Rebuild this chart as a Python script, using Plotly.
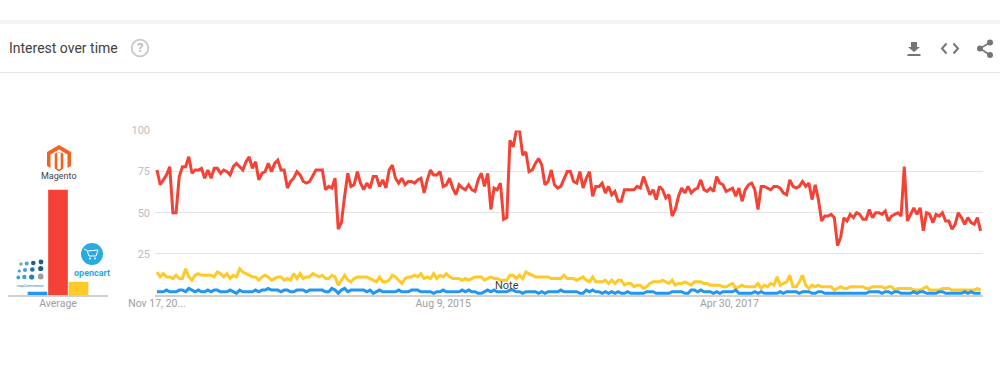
import pandas as pd
import plotly.graph_objects as go

START_DATE = "2013-11-17"
tick_dates = ["2013-11-17", "2015-08-09", "2017-04-30"]
tick_labels = ["Nov 17, 20...", "Aug 9, 2015", "Apr 30, 2017"]
y_ticks = [25, 50, 75, 100]

magento = [
    76,67,70,73,78,50,50,72,78,78, 84,74,76,76,77,71,76,71,77,77,
    74,76,75,73,78,80,78,76,81,84, 77,81,70,74,75,80,75,80,82,76,
    76,65,69,71,75,73,69,68,69,73, 76,76,76,64,66,65,71,40,44,60,
    74,66,67,75,68,64,68,65,72,72, 66,70,65,76,79,71,68,71,67,69,
    69,68,70,71,62,70,76,73,73,75, 66,67,71,65,61,67,65,64,67,64,
    63,70,74,66,74,52,65,64,68,46, 47,94,90,100,100,85,87,75,76,80,
    83,79,67,69,76,67,65,66,70,75, 75,69,68,75,65,71,75,60,66,66,
    68,62,66,61,63,57,57,64,64,64, 64,66,65,72,66,61,64,58,66,64,
    59,61,48,52,60,65,62,66,62,64, 65,70,64,63,65,63,72,68,67,63,
    64,65,60,65,57,64,67,68,64,52, 66,66,65,64,66,66,65,62,61,70,
    66,65,66,69,66,68,58,67,58,45, 48,48,49,47,30,35,47,45,49,47,
    50,49,46,46,52,47,50,50,49,51, 45,48,49,50,48,78,45,49,53,49,
    53,39,50,49,44,49,48,50,45,45, 40,43,50,47,43,47,44,43,47,39,
]
opencart = [
    14,11,13,11,11,10,12,10,10,16, 11,9,12,13,12,12,12,12,11,14,
    13,11,13,10,12,11,16,14,13,12, 11,11,9,11,12,11,9,10,11,11,
    9,10,9,13,10,13,10,11,11,13, 12,11,12,10,10,12,11,6,9,12,
    9,8,10,11,11,11,11,10,9,8, 11,8,8,9,12,11,9,7,10,11,
    11,12,11,13,10,11,10,13,10,12, 11,13,11,10,10,10,9,10,9,10,
    11,11,11,9,10,11,10,10,9,9, 9,12,12,10,12,10,14,13,12,11,
    11,11,11,11,10,10,10,10,12,10, 10,10,9,10,11,9,8,11,8,8,
    8,9,7,9,7,9,9,6,7,7, 5,6,6,4,5,7,8,8,8,9,
    8,7,9,6,7,7,8,7,6,8, 8,8,7,7,6,6,6,6,5,5,
    6,7,4,5,6,5,5,5,5,7, 4,6,5,7,6,11,6,7,8,12,
    5,5,8,12,6,4,6,5,6,5, 5,5,5,3,4,5,4,4,5,5,
    5,5,5,4,4,5,5,5,5,4, 5,5,3,4,4,4,4,4,3,3,
    3,4,5,3,3,3,3,4,4,4, 3,3,3,3,3,3,3,3,4,3,
]
nopcommerce = [
    2,2,2,3,2,2,2,3,3,2, 4,3,2,3,2,2,3,2,3,3,
    2,2,2,3,2,1,3,2,2,2, 2,3,2,3,3,4,3,3,3,2,
    3,3,2,2,3,3,3,2,3,3, 3,3,3,2,2,4,3,1,3,4,
    2,3,3,3,3,3,2,3,1,2, 3,2,2,2,2,2,3,2,2,2,
    3,3,3,2,2,2,2,1,2,2, 3,2,2,2,2,2,3,2,3,2,
    2,1,1,2,3,2,3,2,2,2, 2,3,3,2,2,1,2,2,2,2,
    1,2,1,2,2,2,2,3,2,2, 2,2,2,1,1,3,2,3,2,2,
    1,2,1,2,1,2,1,1,2,1, 1,1,1,1,2,2,2,1,1,1,
    1,1,2,2,2,2,1,1,3,3, 2,3,2,2,2,1,2,1,2,2,
    2,2,3,1,1,1,1,1,2,1, 2,1,1,1,1,1,2,1,2,2,
    2,2,1,2,2,2,1,1,2,2, 1,1,1,1,1,1,1,1,1,1,
    1,1,1,1,2,2,2,2,1,2, 2,1,2,2,1,1,1,1,2,1,
    2,2,1,1,1,1,2,2,1,1, 1,1,1,1,2,1,2,1,1,1,
]
avg_names = ["nopCommerce", "Magento", "OpenCart"]
avg_values = [2, 64, 8]

BLUE, RED, YELLOW = "#2196f3", "#f44336", "#ffca28"
W, H = 1000, 380
FONT = "Roboto"
GREY = "#757575"


def fx(x):
    return x / W


def fy(y):
    return 1 - y / H


def poly(pts, fill):
    d = "M" + " L".join(f"{fx(x):.5f},{fy(y):.5f}" for x, y in pts) + " Z"
    return dict(type="path", xref="paper", yref="paper", path=d,
                fillcolor=fill, line=dict(width=0), layer="above")


def rect(x0, y0, x1, y1, fill):
    return dict(type="rect", xref="paper", yref="paper", x0=fx(x0), x1=fx(x1),
                y0=fy(y0), y1=fy(y1), fillcolor=fill, line=dict(width=0), layer="below")


def circle(cx, cy, r, fill, line_color=None, lw=0):
    return dict(type="circle", xref="paper", yref="paper",
                x0=fx(cx - r), x1=fx(cx + r), y0=fy(cy - r), y1=fy(cy + r),
                fillcolor=fill, line=dict(width=lw, color=line_color or fill), layer="above")


def seg(pts, color, lw):
    d = "M" + " L".join(f"{fx(x):.5f},{fy(y):.5f}" for x, y in pts)
    return dict(type="path", xref="paper", yref="paper", path=d,
                line=dict(color=color, width=lw), layer="above")


def label(x, y, text, size, color, anchor="center", bold=False):
    return dict(xref="paper", yref="paper", x=fx(x), y=fy(y), text=f"<b>{text}</b>" if bold else text,
                showarrow=False, xanchor=anchor, yanchor="middle",
                font=dict(family=FONT, size=size, color=color))


dates = pd.date_range(START_DATE, periods=len(magento), freq="7D")
fig = go.Figure()
for name, vals, col in [("Magento", magento, RED), ("OpenCart", opencart, YELLOW), ("nopCommerce", nopcommerce, BLUE)]:
    fig.add_trace(go.Scatter(x=dates, y=vals, mode="lines", name=name,
                             line=dict(color=col, width=3), xaxis="x", yaxis="y"))
fig.add_trace(go.Bar(x=list(range(len(avg_values))), y=avg_values, hovertext=avg_names,
                     marker=dict(color=[BLUE, RED, YELLOW], line=dict(width=0)),
                     width=0.96, xaxis="x2", yaxis="y2"))

shapes = [
    rect(0, 20, 1000, 24, "#f5f5f5"),
    rect(0, 72, 1000, 73, "#e6e6e6"),
    # help icon
    circle(140, 48, 8.3, "rgba(0,0,0,0)", "#c8c8c8", 1.8),
    # download icon
    poly([(911, 42), (917, 42), (917, 47), (920, 47), (914, 52), (908, 47), (911, 47)], GREY),
    poly([(907.5, 54), (920.5, 54), (920.5, 56), (907.5, 56)], GREY),
    # embed icon
    seg([(946.5, 43.5), (942, 48.5), (946.5, 53.5)], GREY, 2),
    seg([(953.5, 43.5), (958, 48.5), (953.5, 53.5)], GREY, 2),
    # share icon
    seg([(990, 42.5), (980, 48.5), (990, 55)], GREY, 1.6),
    circle(990, 42.5, 3, GREY), circle(980, 48.5, 3, GREY), circle(990, 55, 3, GREY),
    # Magento logo
    poly([(59, 145), (71, 152), (71, 166), (67.5, 168), (67.5, 154.5), (59, 149.5),
          (50.5, 154.5), (50.5, 168), (47, 166), (47, 152)], "#f26322"),
    poly([(57.2, 153.2), (59, 152.2), (60.8, 153.2), (60.8, 152.3), (63.3, 153.8), (63.3, 168.5),
          (59, 171.5), (54.7, 168.5), (54.7, 153.8), (57.2, 152.3)], "#f26322"),
    poly([(57.3, 153), (60.7, 153), (60.7, 168.4), (59, 169.4), (57.3, 168.4)], "#ffffff"),
    # OpenCart logo
    circle(92, 254, 11, "#29abe2"),
    seg([(84, 249), (87, 250.5), (89, 256), (96, 256), (98, 250), (87.5, 251)], "#ffffff", 1),
    circle(90, 258.5, 0.9, "#ffffff"), circle(95, 258.5, 0.9, "#ffffff"),
]
# nopCommerce logo dots
for cx, cy, r, c in [
    (41, 262, 2.4, "#1f5c8a"), (33.3, 263, 2.3, "#1f5c8a"), (26.7, 263.5, 2, "#4aa3d6"), (21, 264, 1.8, "#9e9e9e"),
    (40.7, 268.5, 2.6, "#1f5c8a"), (32.3, 269.5, 2.3, "#2274a8"), (25, 270, 2, "#3fa0d8"), (19.3, 271, 1.6, "#3fa0d8"),
    (40.7, 276.5, 2.9, "#9e9e9e"), (31.7, 277, 2.6, "#2680bd"), (24.3, 277, 2.2, "#3fa0d8"), (18.3, 277.5, 1.9, "#3fa0d8"),
]:
    shapes.append(circle(cx, cy, r, c))

annotations = [
    label(7, 48, "Interest over time", 14, "#424242", anchor="left"),
    label(140, 48, "?", 13, "#bdbdbd", bold=True),
    label(59, 176, "Magento", 9, "#424242"),
    label(92, 273, "opencart", 9, "#29abe2", bold=True),
    label(30, 285, "nopCommerce", 4, "#2a7ab0"),
    dict(x=dates[110], y=6, xref="x", yref="y", text="Note", showarrow=False,
         font=dict(family=FONT, size=11, color="#424242")),
]

fig.update_layout(
    width=W, height=H, autosize=False, margin=dict(l=0, r=0, t=0, b=0),
    paper_bgcolor="white", plot_bgcolor="white", showlegend=False,
    shapes=shapes, annotations=annotations,
    xaxis=dict(domain=[fx(155), fx(983)], anchor="y", type="date", automargin=False,
               range=[dates[0] - pd.Timedelta(days=4.4), dates[-1] + pd.Timedelta(days=5.3)],
               tickmode="array", tickvals=tick_dates, ticktext=tick_labels,
               showgrid=False, zeroline=False, showline=True, linecolor="#d0d0d0", linewidth=1.5,
               ticks="", ticklabelstandoff=-2,
               tickfont=dict(family=FONT, size=10.5, color="#9e9e9e")),
    yaxis=dict(domain=[fy(295), fy(130.5)], anchor="x", range=[0, 100], automargin=False,
               tickmode="array", tickvals=y_ticks, showgrid=True, gridcolor="#e4e4e4", gridwidth=1,
               zeroline=False, ticks="", ticklabelstandoff=4,
               tickfont=dict(family=FONT, size=11, color="#bdbdbd")),
    xaxis2=dict(domain=[fx(8), fx(108)], anchor="y2", range=[1 - 2.44, 1 + 2.44], automargin=False,
                tickmode="array", tickvals=[1], ticktext=["Average"], showgrid=False, zeroline=False,
                showline=True, linecolor="#d0d0d0", linewidth=1.5, ticks="", ticklabelstandoff=-2,
                tickfont=dict(family=FONT, size=10.5, color="#9e9e9e")),
    yaxis2=dict(domain=[fy(295), fy(130.5)], anchor="x2", range=[0, 100], visible=False, automargin=False),
)
fig.write_html("out.html", post_script="document.body.style.margin='0';", config={"displayModeBar": False})
